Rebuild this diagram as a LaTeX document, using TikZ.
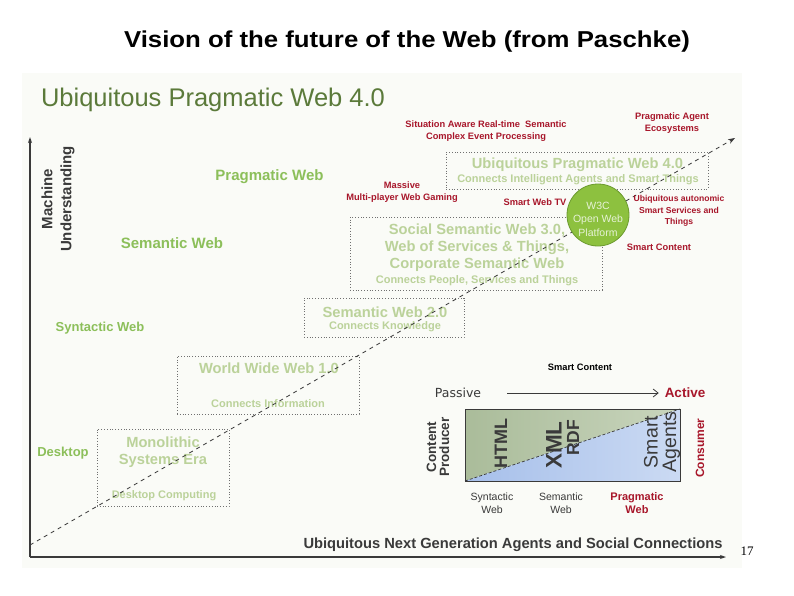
\documentclass[tikz,border=0pt]{standalone}
\usepackage{fontspec}
\setmainfont{Liberation Sans}
\newfontfamily\dejavu{DejaVu Sans}
\newfontfamily\serifface{Liberation Serif}
\usepackage{graphicx}
\usetikzlibrary{arrows.meta}
\definecolor{hdgreen}{HTML}{5B7A3A}
\definecolor{lgreen}{HTML}{8CBF5A}
\definecolor{pgreen}{HTML}{BBD29A}
\definecolor{dred}{HTML}{A8172B}
\definecolor{axisgray}{HTML}{3A3A3A}
\definecolor{boxgray}{HTML}{707070}
\definecolor{bgpale}{HTML}{FAFBF7}
\definecolor{circfill}{HTML}{8DC13F}
\definecolor{circline}{HTML}{6B9A2E}
\definecolor{circtext}{HTML}{E6F2D6}
\definecolor{oliveA}{HTML}{AABC9A}
\definecolor{oliveB}{HTML}{C9D5BD}
\definecolor{blueA}{HTML}{A6BFEA}
\definecolor{blueB}{HTML}{CBDAF3}
\tikzset{
  lbl/.style={inner sep=0pt, outer sep=0pt},
  redlbl/.style={lbl, text=dred, align=center, font=\bfseries\fontsize{9.3}{12}\selectfont},
  greenlbl/.style={lbl, text=lgreen, font=\bfseries\fontsize{15}{18}\selectfont},
  greenlblsm/.style={lbl, text=lgreen, font=\bfseries\fontsize{13}{16}\selectfont},
  boxhead/.style={lbl, text=pgreen, align=center, font=\bfseries\fontsize{14.7}{18}\selectfont},
  boxsub/.style={lbl, text=pgreen, font=\bfseries\fontsize{11}{13}\selectfont},
  erabox/.style={draw=boxgray, dotted, line width=0.8pt, inner sep=0pt, fill=none},
  axisline/.style={draw=axisgray, line width=1.2pt, -{Stealth[length=6pt,width=4pt]}},
  trend/.style={draw=axisgray, line width=0.8pt, dash pattern=on 4pt off 4pt, -{Stealth[length=7pt,width=5pt]}},
  insettxt/.style={lbl, text=axisgray, align=center},
}
\begin{document}
\begin{tikzpicture}[x=1pt, y=-1pt]
\useasboundingbox (0,0) rectangle (794,595);
\fill[white] (0,0) rectangle (794,595);
\fill[bgpale] (22,73) rectangle (742,568);

% title
\node[lbl, font=\bfseries\fontsize{23}{27}\selectfont] (title) at (407,42) {\scalebox{1.12}[1]{Vision of the future of the Web (from Paschke)}};
\node[lbl, text=hdgreen, anchor=west, font=\fontsize{25.5}{30}\selectfont] (heading) at (41,100) {Ubiquitous Pragmatic Web 4.0};

% axes
\coordinate (org) at (30,557);
\coordinate (ytop) at (30,137);
\coordinate (xend) at (726,557);
\draw[axisline] (org) -- (ytop);
\draw[axisline] (org) -- (xend);
\node[lbl, text=axisgray, rotate=90, align=center, font=\bfseries\fontsize{15}{19}\selectfont] (mu) at (58,199) {Machine\\Understanding};
\node[lbl, text=axisgray, font=\bfseries\fontsize{14.7}{18}\selectfont] (xlab) at (513,545) {Ubiquitous Next Generation Agents and Social Connections};

% left green labels
\node[greenlbl] (prag) at (269.5,177) {Pragmatic Web};
\node[greenlbl] (sem) at (172,243) {Semantic Web};
\node[greenlblsm] (syn) at (100,328) {Syntactic Web};
\node[greenlblsm] (desk) at (63,453) {Desktop};

% era boxes
\node[erabox, minimum width=132pt, minimum height=77pt] (box1) at (163,467.5) {};
\node[erabox, minimum width=182pt, minimum height=58pt] (box2) at (268,385) {};
\node[erabox, minimum width=160pt, minimum height=39pt] (box3) at (384,317.5) {};
\node[erabox, minimum width=252pt, minimum height=73pt] (box4) at (476,253.5) {};
\node[erabox, minimum width=262pt, minimum height=37pt] (box5) at (577,170.5) {};

% box texts
\node[boxhead] (b1a) at (163,442) {Monolithic};
\node[boxhead] (b1b) at (163,461) {Systems Era};
\node[boxsub] (b1c) at (164,496) {Desktop Computing};
\node[boxhead] (b2a) at (269,368) {World Wide Web 1.0};
\node[boxsub] (b2b) at (268,404) {Connects Information};
\node[boxhead] (b3a) at (385,312) {Semantic Web 2.0};
\node[boxsub] (b3b) at (385,327) {Connects Knowledge};
\node[boxhead] (b4a) at (477,230) {Social Semantic Web 3.0,};
\node[boxhead] (b4b) at (477,248) {Web of Services \& Things,};
\node[boxhead] (b4c) at (477,265) {Corporate Semantic Web};
\node[boxsub] (b4d) at (477,281) {Connects People, Services and Things};
\node[boxhead] (b5a) at (577.5,165) {Ubiquitous Pragmatic Web 4.0};
\node[boxsub] (b5b) at (578,180) {Connects Intelligent Agents and Smart Things};

% trend line
\coordinate (dstart) at (30,545);
\coordinate (dend) at (735,138);
\draw[trend] (dstart) -- (dend);

% W3C circle
\node[circle, draw=circline, line width=0.8pt, fill=circfill, minimum size=62pt, inner sep=0pt] (w3c) at (598,215) {};
\node[lbl, text=circtext, font=\fontsize{10.5}{13}\selectfont] (w3a) at (598,206) {W3C};
\node[lbl, text=circtext, font=\fontsize{10.5}{13}\selectfont] (w3b) at (598,220) {Open Web};
\node[lbl, text=circtext, font=\fontsize{10.5}{13}\selectfont] (w3c2) at (598,233) {Platform};

% red labels
\node[redlbl] (situ) at (486,131) {Situation Aware Real-time\ \ Semantic\\Complex Event Processing};
\node[redlbl] (agent) at (672,123) {Pragmatic Agent\\Ecosystems};
\node[redlbl] (mass) at (402,192) {Massive\\Multi-player Web Gaming};
\node[redlbl] (tv) at (535,202) {Smart Web TV};
\node[redlbl, font=\bfseries\fontsize{8.6}{11.5}\selectfont] (ubiq) at (679,211) {Ubiquitous autonomic\\Smart Services and\\Things};
\node[redlbl] (scont) at (659,247) {Smart Content};

% inset
\node[lbl, text=black, font=\bfseries\fontsize{9.3}{11}\selectfont] (scont2) at (580,367) {Smart Content};
\node[lbl, text=axisgray, font=\dejavu\fontsize{12.5}{15}\selectfont] (passive) at (458,393) {Passive};
\node[lbl, text=dred, font=\bfseries\fontsize{13.5}{16}\selectfont] (active) at (685,393) {Active};
\draw[axisgray, line width=0.8pt, -{Straight Barb[length=5pt,width=8pt]}] ([xshift=26pt]passive.east) -- ([xshift=-6pt]active.west);

\coordinate (rtl) at (465,409);
\coordinate (rtr) at (680,409);
\coordinate (rbl) at (465,481);
\coordinate (rbr) at (680,481);
\shade[left color=oliveA, right color=oliveB] (rtl) -- (rtr) -- (rbl) -- cycle;
\shade[left color=blueA, right color=blueB] (rtr) -- (rbr) -- (rbl) -- cycle;
\draw[axisgray, line width=0.7pt, dash pattern=on 3pt off 2pt] (rbl) -- (rtr);
\draw[axisgray, line width=1pt] (rtl) rectangle (rbr);

\node[insettxt, rotate=90, font=\bfseries\fontsize{18}{20}\selectfont] (html) at (501,443) {HTML};
\node[insettxt, rotate=90, font=\bfseries\fontsize{22.5}{26}\selectfont] (xml) at (554,445) {XML};
\node[insettxt, rotate=90, font=\bfseries\fontsize{17.5}{20}\selectfont] (rdf) at (573,438) {RDF};
\node[insettxt, rotate=90, font=\fontsize{19.5}{18.5}\selectfont] (smag) at (662,442) {Smart\\Agents};
\node[insettxt, rotate=90, font=\bfseries\fontsize{13.5}{13}\selectfont] (cp) at (438,447) {Content\\Producer};
\node[lbl, text=dred, rotate=90, font=\bfseries\fontsize{12}{14}\selectfont] (cons) at (700,448) {Consumer};

\node[insettxt, font=\fontsize{10.5}{13}\selectfont] (synw) at (492,503.5) {Syntactic\\Web};
\node[insettxt, font=\fontsize{10.5}{13}\selectfont] (semw) at (561,503.5) {Semantic\\Web};
\node[lbl, text=dred, align=center, font=\bfseries\fontsize{11}{13}\selectfont] (pragw) at (637,503.5) {Pragmatic\\Web};

% page number
\node[lbl, font=\serifface\fontsize{13}{15}\selectfont] (pnum) at (747,551) {17};
\end{tikzpicture}
\end{document}
